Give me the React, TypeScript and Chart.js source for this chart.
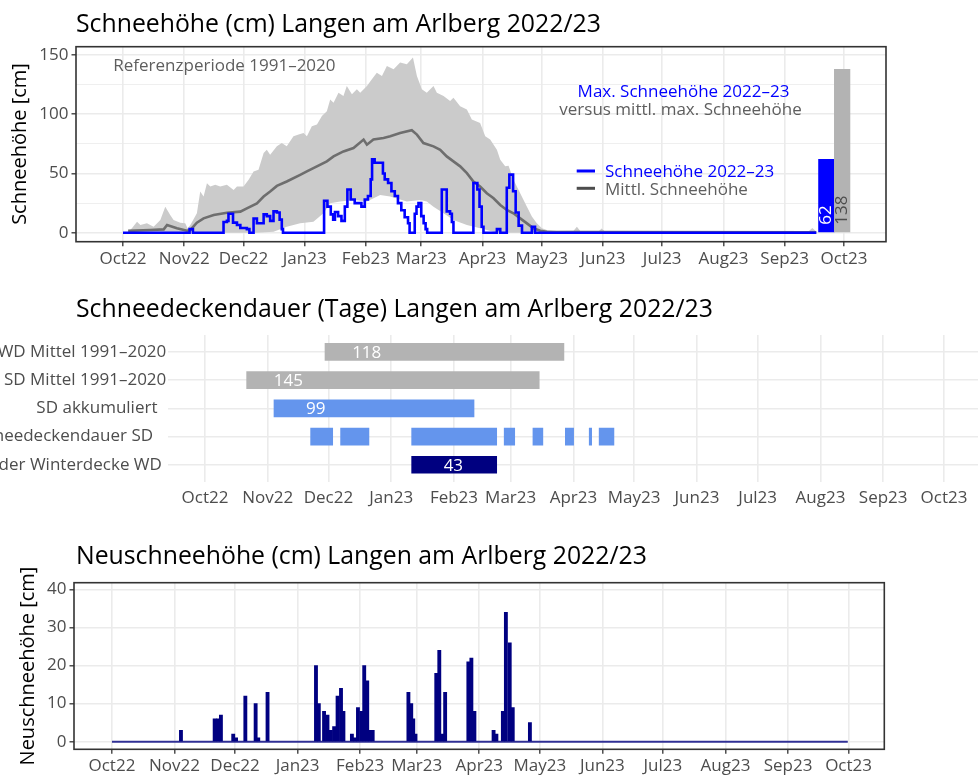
import React, { useEffect, useRef } from "react";
import { Chart, registerables } from "chart.js";

Chart.register(...registerables);

const FONT = "'Open Sans', 'DejaVu Sans', sans-serif";
const TICK_COLOR = "#4D4D4D";
const GRID = "#EBEBEB";
const FRAME = "#333333";

// x positions: days since 1 Oct 2022
const monthDays = [0, 31, 61, 92, 123, 151, 182, 212, 243, 273, 304, 335, 365];
const monthLabels = ["Oct22", "Nov22", "Dec22", "Jan23", "Feb23", "Mar23", "Apr23", "May23", "Jun23", "Jul23", "Aug23", "Sep23", "Oct23"];

// ---------- Panel 1: Schneehöhe ----------
const refUpperDays = [2.6, 4.5, 7.1, 8.8, 12.1, 15.5, 18.9, 21.4, 23.9, 25.6, 29, 31.5, 32.7, 34.1, 37.4, 39.1, 40.8, 42.5, 44.2, 46.7, 49.2, 52.6, 56, 57.7, 61, 63.6, 66.1, 68.6, 71.2, 72.8, 74.5, 77.9, 80.4, 82.9, 86.3, 88.9, 91.4, 93.1, 95.6, 98.2, 100.7, 103.2, 104.9, 106.6, 109.1, 111.6, 113.3, 115.9, 118.4, 120.1, 123.5, 126, 128.5, 131.1, 133.6, 137, 140.3, 143.7, 146.8, 148.8, 151.3, 153.8, 157.2, 158.9, 162.3, 165.6, 167.3, 170.7, 174.1, 176.6, 180.8, 183.4, 185.9, 189.3, 191, 193.5, 195.2, 197.7, 201.1, 204.5, 207, 209.5, 212.1, 214.6, 219.6, 228.1, 229.8, 231.5, 241, 242.3, 244, 300, 333, 339, 347, 349, 351];
const refUpper = [0.5, 3.7, 9.3, 6.5, 7.9, 5.1, 10.7, 22, 15, 10.7, 8.5, 7.9, 3.7, 6.5, 16.4, 34.7, 30.5, 41.8, 39, 40.4, 39, 40.4, 36.1, 39, 39, 44.6, 51.7, 53.1, 67.2, 70, 65.8, 72.9, 75.7, 72.9, 81.4, 82.8, 84.2, 81.4, 89.9, 91.3, 98.4, 102.6, 112.5, 109.7, 118.2, 115.4, 123.8, 116.8, 121, 118.2, 123.8, 129.5, 135.1, 132.3, 140.8, 138, 143.6, 142.2, 147.9, 132.3, 121, 118.2, 123.8, 118.2, 115.4, 111.1, 114, 106.8, 104, 95.6, 92.7, 81.4, 78.6, 70.1, 61.6, 56, 56.5, 44.6, 33.3, 22, 13.6, 7.9, 3.7, 2.3, 1.4, 1.7, 5.1, 1.5, 1.5, 3.5, 1, 0.8, 1.5, 1.5, 1, 4, 1];
const refLowerDays = [2.6, 67.8, 76.2, 82.9, 89.7, 96.4, 101.5, 104.9, 109.9, 116.7, 123.5, 130.2, 135.3, 143.7, 150.5, 153.8, 157.2, 162.3, 167.3, 174.1, 180.8, 187.6, 191, 351];
const refLower = [0, 0, 0.8, 5.1, 7.9, 9.3, 16.4, 24.8, 26.3, 27.7, 26.3, 31.9, 30.5, 26.3, 27.7, 26.3, 22, 16.4, 10.7, 6.5, 3.7, 0.8, 0, 0];
const refMeanDays = [2.6, 13.8, 20.6, 22.3, 27.3, 32.4, 34.1, 37.4, 40.8, 45.9, 52.6, 59.4, 62.7, 67.8, 71.2, 74.5, 77.9, 82.9, 89.7, 93.1, 96.4, 103.2, 106.6, 111.6, 116.7, 121.8, 123.5, 126.8, 131.9, 135.3, 140.3, 146.2, 148.8, 152.1, 157.2, 160.6, 163.9, 167.3, 170.7, 174.1, 177.4, 180.8, 184.2, 187.6, 191, 194.3, 197.7, 201.1, 204.5, 207.8, 211.2, 214.6, 240, 351];
const refMean = [1.5, 2.3, 2.8, 6.5, 3.7, 1.7, 2.3, 8.5, 12.1, 15, 16.9, 17.8, 20.6, 24.8, 30.5, 34.7, 39.5, 43.2, 48.8, 51.7, 54.5, 60.2, 64.4, 68.6, 71.5, 78.6, 74.3, 78.6, 80, 81.4, 84.2, 86.5, 82.8, 75.7, 72.9, 70, 64.4, 60.2, 56, 50.3, 43.2, 39, 33.3, 29.1, 23.4, 19.2, 16.4, 12.1, 7.9, 3.7, 1.7, 0.8, 0.5, 0.3];
const hsDays = [0, 33.7, 35.4, 50.9, 52.6, 53.4, 55.7, 57.7, 59.4, 62.7, 64, 66.1, 67.8, 71.2, 72.8, 74.5, 76.2, 77.9, 79.3, 80.4, 81, 101.8, 103.5, 105.2, 106.4, 107.3, 108.9, 110.6, 112.3, 113.6, 115.3, 117.3, 120.7, 122.4, 124, 125.4, 126.1, 127.4, 131.6, 132.5, 134.2, 135.9, 137.6, 139.2, 140.9, 142.6, 144.3, 145.1, 147.7, 148.6, 149.6, 151, 152.2, 153.2, 154, 161.4, 163.9, 165.6, 166.5, 167.3, 177.4, 179.4, 180.5, 181.6, 182.5, 189.3, 191, 194.3, 195.6, 197.5, 198.8, 200.3, 202, 207, 208.6, 351];
const hsValues = [0, 3, 0, 9, 10, 16, 8.5, 6.5, 4, 3, 0, 12, 8, 15.5, 14, 10, 18, 17, 11, 3, 0, 27, 22, 15.5, 11, 17.5, 14, 10, 22, 36.5, 28, 25, 22, 28, 31, 45, 62, 59, 50, 45, 42, 35, 31, 25, 19, 13, 8, 0, 16, 22, 25, 14, 8, 3, 0, 36.5, 18, 16, 9, 0, 42, 36.5, 22, 5, 0, 3, 0, 38, 49, 35, 17, 6, 0, 5, 0, 0];
const maxDays = [356.1, 364.1];
const maxValues = [62, 138];

// ---------- Panel 2: Schneedeckendauer ----------
const durLabels = ["WD Mittel 1991–2020", "SD Mittel 1991–2020", "SD akkumuliert  ", "Schneedeckendauer SD   ", "Dauer der Winterdecke WD "];
const durRowPos = [5, 4, 3, 2, 1];
const sumRows = [5, 4, 3, 1];
const sumStart = [59.3, 20.6, 34.1, 102.1];
const sumEnd = [177.3, 165.1, 132.9, 144.1];
const sumDays = [118, 145, 99, 43];
const sdStart = [52.2, 67, 102.1, 147.8, 162, 178, 189.8, 194.7];
const sdEnd = [63.1, 81, 144.1, 153, 166.9, 182.1, 191, 202];

// ---------- Panel 3: Neuschneehöhe ----------
const nsDays = [34.2, 50.9, 52.5, 54, 60.1, 61.5, 66.1, 71.2, 72.5, 77.1, 101.1, 102.5, 105.1, 106.8, 108.5, 110.1, 111.8, 113.5, 114.7, 118.9, 120.4, 121.9, 123.6, 125, 126.5, 127.7, 129.2, 146.9, 148.3, 149.3, 150.4, 160.7, 162.2, 163.7, 165.1, 176.6, 178.1, 179.6, 189.1, 190.5, 193.7, 195.2, 197.1, 198.6, 207.1];
const nsValues = [3, 6, 6, 7, 2, 1, 12, 10, 1, 13, 20, 10, 8, 7, 3, 4, 12, 14, 8, 2, 1, 9, 8, 20, 16, 3, 3, 13, 10, 6, 2, 18, 24, 2, 13, 21, 22, 8, 3, 2, 8, 34, 26, 9, 5];
const nsSeasonDays = [0, 364.6];
const nsSeasonZero = [0, 0];

const pts = (xs: number[], ys: number[]) => xs.map((x, i) => ({ x, y: ys[i] }));

type Txt = { t: string; x: number; y: number; size: number; color: string; align?: CanvasTextAlign; rot?: boolean; base?: CanvasTextBaseline };

const textPlugin = (items: Txt[]) => ({
  id: "texts",
  afterDraw(chart: any) {
    const ctx = chart.ctx;
    items.forEach((it) => {
      ctx.save();
      ctx.font = `${it.size}px ${FONT}`;
      ctx.fillStyle = it.color;
      ctx.textAlign = it.align || "left";
      ctx.textBaseline = it.base || "alphabetic";
      ctx.translate(it.x, it.y);
      if (it.rot) ctx.rotate(-Math.PI / 2);
      ctx.fillText(it.t, 0, 0);
      ctx.restore();
    });
  },
});

const borderPlugin = {
  id: "panelBorder",
  afterDraw(chart: any) {
    const { left, top, width, height } = chart.chartArea;
    const ctx = chart.ctx;
    ctx.save();
    ctx.strokeStyle = FRAME;
    ctx.lineWidth = 1.6;
    ctx.strokeRect(left, top, width, height);
    ctx.restore();
  },
};

const monthAxis = (min: number, max: number, height: number, padding: number, ticks: boolean) => ({
  type: "linear",
  min,
  max,
  bounds: "data",
  offset: false,
  afterBuildTicks: (s: any) => {
    s.ticks = monthDays.map((v) => ({ value: v }));
  },
  afterFit: (s: any) => {
    s.height = height;
  },
  ticks: {
    autoSkip: false,
    maxRotation: 0,
    minRotation: 0,
    padding,
    color: TICK_COLOR,
    font: { family: FONT, size: 17 },
    callback: (v: number) => monthLabels[monthDays.indexOf(v)],
  },
  grid: {
    color: GRID,
    lineWidth: 1.6,
    offset: false,
    drawTicks: ticks,
    tickLength: 4.5,
    tickColor: FRAME,
    tickWidth: 1.3,
  },
  border: { display: false },
});

const valueAxis = (min: number, max: number, tickVals: number[], major: number, width: number) => ({
  type: "linear",
  min,
  max,
  bounds: "data",
  afterBuildTicks: (s: any) => {
    s.ticks = tickVals.map((v) => ({ value: v }));
  },
  afterFit: (s: any) => {
    s.width = width;
  },
  ticks: {
    padding: 3,
    color: TICK_COLOR,
    font: { family: FONT, size: 17 },
    callback: (v: number) => (v % major === 0 ? String(v) : ""),
  },
  grid: {
    color: GRID,
    lineWidth: (c: any) => (c.tick && c.tick.value % major === 0 ? 1.6 : 0.8),
    tickLength: 4.5,
    tickColor: (c: any) => (c.tick && c.tick.value % major === 0 ? FRAME : "rgba(0,0,0,0)"),
    tickWidth: 1.3,
  },
  border: { display: false },
});

export default function App() {
  const topRef = useRef<HTMLCanvasElement>(null);
  const midRef = useRef<HTMLCanvasElement>(null);
  const botRef = useRef<HTMLCanvasElement>(null);

  useEffect(() => {
    const charts: any[] = [];

    // ---------- top ----------
    const legendPlugin = {
      id: "legendTop",
      afterDraw(chart: any) {
        const ctx = chart.ctx;
        ctx.save();
        ctx.lineWidth = 3;
        ctx.strokeStyle = "#0000FF";
        ctx.beginPath();
        ctx.moveTo(576.7, 171);
        ctx.lineTo(595, 171);
        ctx.stroke();
        ctx.strokeStyle = "#4D4D4D";
        ctx.beginPath();
        ctx.moveTo(576.7, 188.3);
        ctx.lineTo(595, 188.3);
        ctx.stroke();
        ctx.restore();
      },
    };
    const maxLabelPlugin = {
      id: "maxLabels",
      afterDatasetsDraw(chart: any) {
        const ctx = chart.ctx;
        const meta = chart.getDatasetMeta(4);
        const y0 = chart.scales.y.getPixelForValue(0) - 8;
        meta.data.forEach((el: any, i: number) => {
          ctx.save();
          ctx.translate(el.x, y0);
          ctx.rotate(-Math.PI / 2);
          ctx.font = `17px ${FONT}`;
          ctx.textAlign = "left";
          ctx.textBaseline = "middle";
          ctx.fillStyle = i === 0 ? "#FFFFFF" : "#4D4D4D";
          ctx.fillText(String(maxValues[i]), 0, 0);
          ctx.restore();
        });
      },
    };
    charts.push(
      new Chart(topRef.current as HTMLCanvasElement, {
        type: "line",
        data: {
          datasets: [
            { data: pts(refLowerDays, refLower), borderWidth: 0, pointRadius: 0, fill: false, order: 5 } as any,
            { data: pts(refUpperDays, refUpper), borderWidth: 0, pointRadius: 0, fill: "-1", backgroundColor: "#CBCBCB", order: 4 },
            { data: pts(refMeanDays, refMean), borderColor: "#6E6E6E", borderWidth: 2.6, pointRadius: 0, fill: false, order: 3 },
            { data: pts(hsDays, hsValues), borderColor: "#0000FF", borderWidth: 2.6, pointRadius: 0, fill: false, stepped: true, order: 1 },
            { type: "bar", data: pts(maxDays, maxValues), backgroundColor: ["#0000FF", "#B3B3B3"], barThickness: 15.6, grouped: false, order: 2 },
          ],
        },
        options: {
          responsive: false,
          animation: false,
          devicePixelRatio: 1,
          layout: { padding: { top: 46.7, right: 92, bottom: 0, left: 0 } },
          plugins: { legend: { display: false }, tooltip: { enabled: false }, title: { display: false } },
          scales: {
            x: monthAxis(-23.8, 386.3, 38.3, 2.6, true),
            y: valueAxis(-7.6, 157, [0, 25, 50, 75, 100, 125, 150], 50, 76),
          },
        } as any,
        plugins: [
          borderPlugin,
          legendPlugin,
          maxLabelPlugin,
          textPlugin([
            { t: "Schneehöhe (cm) Langen am Arlberg 2022/23", x: 76, y: 31.7, size: 24.8, color: "#000000" },
            { t: "Schneehöhe [cm]", x: 20.5, y: 144, size: 20, color: "#000000", align: "center", base: "middle", rot: true },
            { t: "Referenzperiode 1991–2020", x: 113.3, y: 70.7, size: 17, color: "#5E5E5E" },
            { t: "Max. Schneehöhe 2022–23", x: 683.5, y: 97.3, size: 17, color: "#0000FF", align: "center" },
            { t: "versus mittl. max. Schneehöhe", x: 680.5, y: 115, size: 17, color: "#5E5E5E", align: "center" },
            { t: "Schneehöhe 2022–23", x: 605, y: 176.7, size: 17, color: "#0000FF" },
            { t: "Mittl. Schneehöhe", x: 605, y: 194.5, size: 17, color: "#5E5E5E" },
          ]),
        ],
      } as any)
    );

    // ---------- middle ----------
    const durLabelPlugin = {
      id: "durLabels",
      afterDatasetsDraw(chart: any) {
        const ctx = chart.ctx;
        ctx.save();
        ctx.font = `17px ${FONT}`;
        ctx.textAlign = "center";
        ctx.textBaseline = "middle";
        ctx.fillStyle = "#FFFFFF";
        sumDays.forEach((d, i) => {
          const x = chart.scales.x.getPixelForValue(sumStart[i] + 20.6);
          const y = chart.scales.y.getPixelForValue(sumRows[i]);
          ctx.fillText(String(d), x, y + 1);
        });
        ctx.restore();
      },
    };
    charts.push(
      new Chart(midRef.current as HTMLCanvasElement, {
        type: "bar",
        data: {
          datasets: [
            {
              data: sumRows.map((r, i) => ({ y: r, x: [sumStart[i], sumEnd[i]] })),
              backgroundColor: ["#B3B3B3", "#B3B3B3", "#6495ED", "#000080"],
              barThickness: 17,
              grouped: false,
            },
            {
              data: sdStart.map((s, i) => ({ y: 2, x: [s, sdEnd[i]] })),
              backgroundColor: "#6495ED",
              barThickness: 17,
              grouped: false,
            },
          ],
        },
        options: {
          indexAxis: "y",
          responsive: false,
          animation: false,
          devicePixelRatio: 1,
          layout: { padding: { top: 55, right: 9, bottom: 0, left: 0 } },
          plugins: { legend: { display: false }, tooltip: { enabled: false }, title: { display: false } },
          scales: {
            x: monthAxis(-18.1, 383.3, 38.3, 6.1, false),
            y: {
              type: "linear",
              min: 0.4,
              max: 5.6,
              bounds: "data",
              offset: false,
              afterBuildTicks: (s: any) => {
                s.ticks = durRowPos.map((v) => ({ value: v }));
              },
              afterFit: (s: any) => {
                s.width = 338.3;
              },
              ticks: {
                padding: 2,
                color: TICK_COLOR,
                font: { family: FONT, size: 17 },
                callback: (v: number) => durLabels[durRowPos.indexOf(v)],
              },
              grid: { color: GRID, lineWidth: 1.6, offset: false, drawTicks: false },
              border: { display: false },
            },
          },
        } as any,
        plugins: [
          durLabelPlugin,
          textPlugin([{ t: "Schneedeckendauer (Tage) Langen am Arlberg 2022/23", x: 246, y: 37.3, size: 24.8, color: "#000000" }]),
        ],
      } as any)
    );

    // ---------- bottom ----------
    charts.push(
      new Chart(botRef.current as HTMLCanvasElement, {
        type: "bar",
        data: {
          datasets: [
            {
              type: "bar",
              data: pts(nsDays, nsValues),
              backgroundColor: "#000080",
              barThickness: 3.2,
              grouped: false,
              order: 1,
            },
            {
              type: "line",
              data: pts(nsSeasonDays, nsSeasonZero),
              borderColor: "rgba(0,0,128,0.8)",
              borderWidth: 2,
              pointRadius: 0,
              fill: false,
              order: 2,
            },
          ],
        },
        options: {
          responsive: false,
          animation: false,
          devicePixelRatio: 1,
          layout: { padding: { top: 62.7, right: 93.7, bottom: 0, left: 0 } },
          plugins: { legend: { display: false }, tooltip: { enabled: false }, title: { display: false } },
          scales: {
            x: monthAxis(-18.8, 382.7, 26.7, 2.6, true),
            y: valueAxis(-2.0, 41.8, [0, 5, 10, 15, 20, 25, 30, 35, 40], 10, 74),
          },
        } as any,
        plugins: [
          borderPlugin,
          textPlugin([
            { t: "Neuschneehöhe (cm) Langen am Arlberg 2022/23", x: 76, y: 44, size: 24.8, color: "#000000" },
            { t: "Neuschneehöhe [cm]", x: 28, y: 146, size: 20, color: "#000000", align: "center", base: "middle", rot: true },
          ]),
        ],
      } as any)
    );

    return () => charts.forEach((c) => c.destroy());
  }, []);

  return (
    <div style={{ position: "absolute", left: 0, top: 0, width: 978, height: 776, overflow: "hidden", background: "#FFFFFF" }}>
      <canvas ref={topRef} width={978} height={280} style={{ position: "absolute", left: 0, top: 0 }} />
      <canvas ref={midRef} width={1160} height={240} style={{ position: "absolute", left: -170, top: 280 }} />
      <canvas ref={botRef} width={978} height={256} style={{ position: "absolute", left: 0, top: 520 }} />
    </div>
  );
}
